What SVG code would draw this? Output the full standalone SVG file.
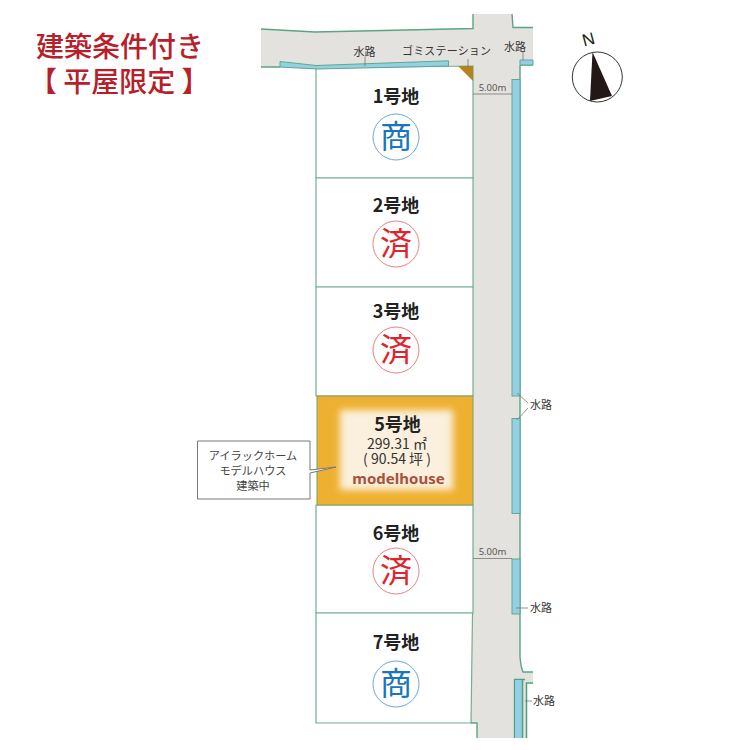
<svg xmlns="http://www.w3.org/2000/svg" width="750" height="750" viewBox="0 0 750 750">
<style>
text{font-family:"Noto Sans CJK JP","Noto Sans",sans-serif;text-anchor:middle;fill:#333}
.lot{fill:#fff;stroke:#6fb08f;stroke-width:1.2}
.water{fill:#93d0e6;stroke:#5fa98c;stroke-width:1}
.edge{fill:none;stroke:#5aa683;stroke-width:1.4}
.leader{fill:none;stroke:#777;stroke-width:.8}
.lab{font-size:11px}
.dim{font-size:9.5px;font-family:"Noto Sans",sans-serif;fill:#555}
.name{font-size:18px;font-weight:700;fill:#222}
.ring-b{fill:#fff;stroke:#4a90c8;stroke-width:.8}
.ring-r{fill:#fff;stroke:#e8605f;stroke-width:.8}
.mark{font-size:32px}
.mb{fill:#1b75bb}
.mr{fill:#e0242c}
.title{font-size:28px;font-weight:500;fill:#b5202b;text-anchor:start}
.call{font-size:11.2px;fill:#444}
</style>
<defs><filter id="soft" x="-20%" y="-20%" width="140%" height="140%"><feGaussianBlur stdDeviation="3.5"/></filter></defs>
<g id="title">
<text class="title" x="36" y="57">建築条件付き</text>
<text class="title" x="29" y="92">【 平屋限定 】</text>
</g>
<g id="road">
<path d="M261 29L315 32L473 28.500V14H512L513 27.500H533V65H520V657Q521 668 523 672H533V682H527V738H477V723H471L473 500V81L458 66L316 69L261 67Z" fill="#e4e2df"/>
<path class="edge" d="M261 29L315 32L473 28.500V14M512 14L513 27.500H533M261 67L280 67M520 65H533M520 65V657Q521 668 523 672H533"/>
</g>
<g id="lots">
<path class="lot" d="M316 68L473 66V178H316Z"/>
<path class="lot" d="M316 178H473V287H316Z"/>
<path class="lot" d="M316 287H473V396H316Z"/>
<path class="lot" d="M316 505H473V613H316Z"/>
<path class="lot" d="M316 613H472.500L471 723H316Z"/>
<path d="M471 723H477V738" class="edge"/>
</g>
<g id="lot1">
<text class="name" x="396" y="103">1号地</text>
<circle class="ring-b" cx="396" cy="137" r="23"/>
<text class="mark mb" x="396" y="148">商</text>
</g>
<g id="lot2">
<text class="name" x="396" y="212">2号地</text>
<circle class="ring-r" cx="396" cy="244" r="23"/>
<text class="mark mr" x="396" y="255">済</text>
</g>
<g id="lot3">
<text class="name" x="396" y="318">3号地</text>
<circle class="ring-r" cx="396" cy="350" r="23"/>
<text class="mark mr" x="396" y="361">済</text>
</g>
<g id="lot5">
<rect x="317" y="396" width="156" height="109" fill="#eeb030" stroke="#7fa060" stroke-width="1"/>
<rect x="340" y="410" width="113" height="80" fill="#fbf0dd" filter="url(#soft)"/>
<text class="name" x="397.500" y="431">5号地</text>
<text x="397" y="448.500" style="font-size:14px">299.31 ㎡</text>
<text x="397" y="464" style="font-size:14px">( 90.54 坪 )</text>
<text x="398.500" y="484" style="font-size:15px;font-weight:700;fill:#a8503a;font-family:'Noto Sans',sans-serif">modelhouse</text>
</g>
<g id="lot6">
<text class="name" x="396" y="540">6号地</text>
<circle class="ring-r" cx="396" cy="571" r="23"/>
<text class="mark mr" x="396" y="582">済</text>
</g>
<g id="lot7">
<text class="name" x="396" y="649">7号地</text>
<circle class="ring-b" cx="396" cy="684" r="23"/>
<text class="mark mb" x="396" y="695">商</text>
</g>
<g id="waterways">
<path class="water" d="M280 61.500L316 65.500L448.500 60.800V66L318 69L280 67Z"/>
<path class="water" d="M520 60H533V65H520Z"/>
<rect class="water" x="512" y="79.500" width="8" height="316.500"/>
<rect class="water" x="512" y="418.500" width="8" height="95"/>
<rect class="water" x="512" y="559" width="8" height="55"/>
<path d="M514.500 738V679.500H525" fill="none" stroke="#4f9f80" stroke-width="1.300"/>
<rect x="515" y="680" width="7" height="58" fill="#93d0e6"/>
<path d="M522.500 680V738M526.500 738V683H533" fill="none" stroke="#4f9f80" stroke-width="1.500"/>
</g>
<g id="garbage"><path d="M458 66H473V81Z" fill="#b5821b"/></g>
<g id="connectors">
<path class="leader" d="M365 57V66M468 59V68M523 52V60M473 94H512M473 558.500H512M517 393L528 403M517 420L528 408M516 608H528M525 701H532"/>
</g>
<g id="labels">
<text class="lab" x="364.500" y="56">水路</text>
<text class="lab" x="446.500" y="55" textLength="89">ゴミステーション</text>
<text class="lab" x="515" y="51">水路</text>
<text class="dim" x="492.500" y="91">5.00m</text>
<text class="dim" x="492.500" y="555">5.00m</text>
<text class="lab" x="541" y="409">水路</text>
<text class="lab" x="541" y="612">水路</text>
<text class="lab" x="544" y="705">水路</text>
</g>
<g id="callout">
<path d="M197.500 441H310V470L336 467L310 473V499H197.500Z" fill="#fff" stroke="#777" stroke-width="1"/>
<text class="call" x="253" y="460">アイラックホーム</text>
<text class="call" x="253" y="475">モデルハウス</text>
<text class="call" x="253" y="490">建築中</text>
</g>
<g id="compass">
<circle cx="597.300" cy="77" r="25" fill="#fff" stroke="#333" stroke-width="1"/>
<path d="M592.500 52L612 96L590 101Z" fill="#231815"/>
<text x="0" y="0" transform="translate(590 45) rotate(-15)" style="font-size:17px;fill:#222;font-family:'Liberation Sans',sans-serif">N</text>
</g>
</svg>
